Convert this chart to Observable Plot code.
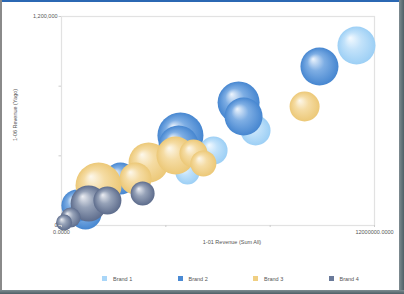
<!DOCTYPE html>
<html>
<head>
<meta charset="utf-8">
<script src="https://cdn.jsdelivr.net/npm/d3@7"></script>
<script src="https://cdn.jsdelivr.net/npm/@observablehq/plot@0.6"></script>
<style>
  html, body { margin: 0; padding: 0; background: #fff; }
  #wrap { position: relative; width: 404px; height: 294px; overflow: hidden; font-family: "Liberation Sans", Arial, sans-serif; }
  #legend { position: absolute; left: 0; top: 262px; width: 404px; height: 32px; display: flex; padding-left: 102px; box-sizing: border-box; align-items: center; }
  .item { width: 77.7px; display: flex; align-items: center; font-size: 5.5px; color: #555; margin-top: 1px; }
  .sw { width: 5px; height: 5px; margin-right: 6px; }
  .fr { position: absolute; }
</style>
</head>
<body>
<div id="wrap">
  <div id="chart"></div>
  <div id="legend"></div>
  <div class="fr" style="left:0;top:0;width:404px;height:2px;background:#2b68b3"></div>
  <div class="fr" style="left:0;top:0;width:2px;height:294px;background:#8a8a8a"></div>
  <div class="fr" style="left:399px;top:0;width:5px;height:294px;background:linear-gradient(90deg,#7f8d92,#4f5f66)"></div>
  <div class="fr" style="left:0;top:290px;width:404px;height:4px;background:linear-gradient(180deg,#7f8d92,#4f5f66)"></div>
</div>
<svg width="0" height="0" style="position:absolute">
  <defs>
    <radialGradient id="g1" cx="0.5" cy="0.5" r="0.5" fx="0.33" fy="0.3">
      <stop offset="0" stop-color="#f4faff"/>
      <stop offset="0.45" stop-color="#c2e2fa"/>
      <stop offset="1" stop-color="#9ccff5"/>
    </radialGradient>
    <radialGradient id="g2" cx="0.5" cy="0.5" r="0.5" fx="0.33" fy="0.3">
      <stop offset="0" stop-color="#eef5fd"/>
      <stop offset="0.45" stop-color="#7eaee4"/>
      <stop offset="1" stop-color="#4686d0"/>
    </radialGradient>
    <radialGradient id="g3" cx="0.5" cy="0.5" r="0.5" fx="0.33" fy="0.3">
      <stop offset="0" stop-color="#fdf8ec"/>
      <stop offset="0.45" stop-color="#f5dca4"/>
      <stop offset="1" stop-color="#ecc877"/>
    </radialGradient>
    <radialGradient id="g4" cx="0.5" cy="0.5" r="0.5" fx="0.33" fy="0.3">
      <stop offset="0" stop-color="#eceef3"/>
      <stop offset="0.45" stop-color="#96a2b8"/>
      <stop offset="1" stop-color="#5d6c8c"/>
    </radialGradient>
  </defs>
</svg>
<script>
// Categories
const brands = ["Brand 1", "Brand 2", "Brand 3", "Brand 4"];
const brandColors = ["#a9d6f8", "#4a8ad4", "#f0cf82", "#6a7a9a"];
const brandFills = ["url(#g1)", "url(#g2)", "url(#g3)", "url(#g4)"];

// Series: [1-01 Revenue (Sum All), 1-06 Revenue (Yago), bubble size]
const brand1 = [
  [11310000, 1033600, 361],
  [7440000, 545500, 225],
  [5830000, 430700, 196],
  [4830000, 304300, 144]
];
const brand2 = [
  [9890000, 913000, 361],
  [6790000, 706300, 441],
  [6980000, 625900, 361],
  [4490000, 459400, 400],
  [4560000, 516800, 529],
  [2260000, 269900, 256],
  [920000, 68900, 256],
  [610000, 114800, 256]
];
const brand3 = [
  [9320000, 683300, 225],
  [5440000, 356000, 169],
  [5060000, 413400, 196],
  [4370000, 401900, 361],
  [3340000, 361700, 400],
  [2840000, 269900, 256],
  [1420000, 229700, 529]
];
const brand4 = [
  [3110000, 183700, 144],
  [1760000, 143600, 196],
  [1040000, 126300, 324],
  [350000, 45900, 100],
  [100000, 17200, 64]
];

// Ticks
const xTicks = [0, 4000000, 8000000, 12000000];
const yTicks = [0, 400000, 800000, 1200000];
const xTitle = "1-01 Revenue (Sum All)";
const yTitle = "1-06 Revenue (Yago)";

const series = [brand1, brand2, brand3, brand4].map((rows, i) =>
  rows.map(([x, y, s]) => ({brand: brands[i], x, y, s}))
);

const font = {fontSize: 5.5, fill: "#555"};

const chart = Plot.plot({
  width: 404,
  height: 262,
  marginLeft: 61,
  marginTop: 16,
  marginRight: 30,
  marginBottom: 37,
  style: {background: "#fff", fontFamily: "Liberation Sans, Arial, sans-serif", fontSize: "5.5px", color: "#555"},
  x: {domain: [0, 12000000]},
  y: {domain: [0, 1200000]},
  r: {type: "sqrt", domain: [0, 529], range: [0, 23]},
  marks: [
    Plot.frame({stroke: "#e2e2e2", strokeWidth: 1.2}),
    ...series.map((data, i) =>
      Plot.dot(data, {x: "x", y: "y", r: "s", fill: brandFills[i], stroke: "none"})
    ),
    Plot.axisX({ticks: xTicks, tickSize: 2, tickPadding: 3, stroke: "#ccc", fill: "#555",
      tickFormat: d => (d === 0 || d === 12000000) ? d.toFixed(4) : "", label: null}),
    Plot.axisY({ticks: yTicks, tickSize: 2.5, tickPadding: 1.5, stroke: "#ccc", fill: "#555",
      tickFormat: d => (d === 0 || d === 1200000) ? d3.format(",")(d) : "", label: null}),
    Plot.text([xTitle], {frameAnchor: "bottom", dx: 14, dy: 18, ...font}),
    Plot.text([yTitle], {frameAnchor: "left", rotate: -90, dx: -46, dy: 20, ...font})
  ]
});
document.getElementById("chart").appendChild(chart);

const legend = document.getElementById("legend");
brands.forEach((b, i) => {
  const it = document.createElement("div");
  it.className = "item";
  const sw = document.createElement("span");
  sw.className = "sw";
  sw.style.background = brandColors[i];
  const t = document.createElement("span");
  t.textContent = b;
  it.appendChild(sw);
  it.appendChild(t);
  legend.appendChild(it);
});
</script>
</body>
</html>
